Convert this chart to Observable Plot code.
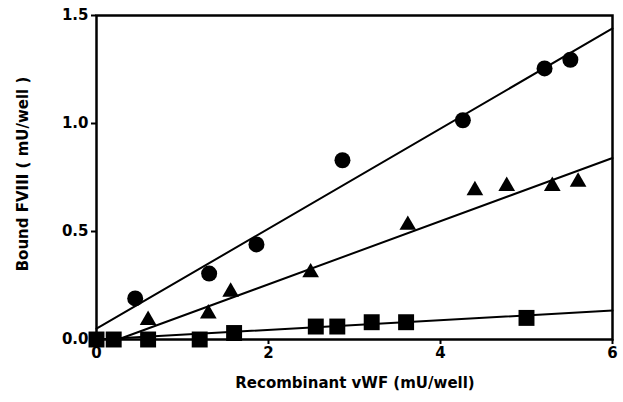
<!DOCTYPE html>
<html><head><meta charset="utf-8">
<script src="https://cdn.jsdelivr.net/npm/d3@7"></script>
<script src="https://cdn.jsdelivr.net/npm/@observablehq/plot@0.6"></script>
<style>body{margin:0;background:#fff}</style>
</head><body><div id="chart"></div>
<script>
const circleX = [0.45, 1.31, 1.86, 2.86, 4.26, 5.21, 5.51];
const circleY = [0.19, 0.305, 0.44, 0.83, 1.015, 1.255, 1.295];
const triX = [0.6, 1.3, 1.56, 2.49, 3.62, 4.4, 4.77, 5.3, 5.6];
const triY = [0.09, 0.12, 0.22, 0.31, 0.53, 0.69, 0.71, 0.71, 0.73];
const sqX = [0, 0.2, 0.6, 1.2, 1.6, 2.55, 2.8, 3.2, 3.6, 5.0];
const sqY = [0, 0, 0, 0, 0.03, 0.06, 0.06, 0.08, 0.08, 0.10];
// fitted lines (endpoints)
const circleFitX = [0, 6], circleFitY = [0.05, 1.44];
const triFitX = [0.25, 6], triFitY = [0.0, 0.84];
const sqFitX = [0, 6], sqFitY = [0.0, 0.134];
const xTicks = [0, 2, 4, 6];
const yTicks = [0, 0.5, 1.0, 1.5];

const pts = (xs, ys) => xs.map((x, i) => ({x, y: ys[i]}));
const font = "DejaVu Sans, sans-serif";

const plot = Plot.plot({
  width: 623, height: 402,
  marginLeft: 96, marginRight: 11, marginTop: 15, marginBottom: 63,
  style: {fontFamily: font, fontSize: "15px", color: "#000", background: "#fff"},
  x: {domain: [0, 6], label: null},
  y: {domain: [0, 1.5], label: null},
  marks: [
    Plot.frame({stroke: "#000", strokeWidth: 2.5}),
    Plot.line(pts(circleFitX, circleFitY), {x: "x", y: "y", stroke: "#000", strokeWidth: 2}),
    Plot.line(pts(triFitX, triFitY), {x: "x", y: "y", stroke: "#000", strokeWidth: 2}),
    Plot.line(pts(sqFitX, sqFitY), {x: "x", y: "y", stroke: "#000", strokeWidth: 2}),
    Plot.dot(pts(circleX, circleY), {x: "x", y: "y", symbol: "circle", r: 8, fill: "#000"}),
    Plot.dot(pts(triX, triY), {x: "x", y: "y", symbol: "triangle", r: 6.2, fill: "#000"}),
    Plot.dot(pts(sqX, sqY), {x: "x", y: "y", symbol: "square", r: 9, fill: "#000"}),
    Plot.axisX({ticks: xTicks, tickSize: 5, tickPadding: 3, strokeWidth: 2, tickFormat: "d", fontWeight: "bold", label: null}),
    Plot.axisY({ticks: yTicks, tickSize: 5, tickPadding: 3, strokeWidth: 2, tickFormat: ".1f", fontWeight: "bold", label: null})
  ]
});
const svg = d3.select(plot);
svg.selectAll("g[aria-label$='tick label'] text")
  .style("font-size", "15px").style("font-family", font).style("font-weight", "bold");
svg.append("text").attr("x", 355).attr("y", 388).attr("text-anchor", "middle")
  .style("font-family", font).style("font-size", "15px").style("font-weight", "bold")
  .text("Recombinant vWF (mU/well)");
svg.append("text").attr("transform", "translate(28,174) rotate(-90)").attr("text-anchor", "middle")
  .style("font-family", font).style("font-size", "15px").style("font-weight", "bold")
  .text("Bound FVIII ( mU/well )");
document.getElementById("chart").appendChild(plot);
</script></body></html>
